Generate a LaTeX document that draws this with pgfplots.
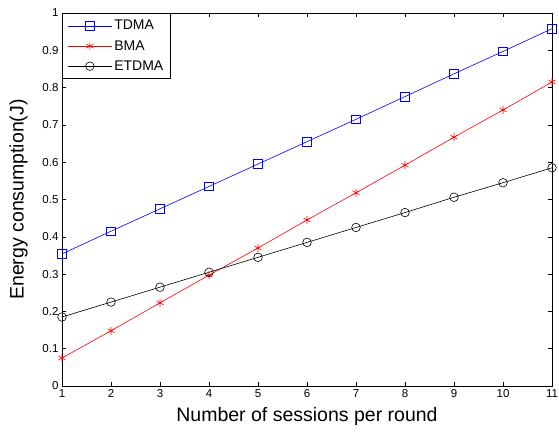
\documentclass[border=0pt]{standalone}
\usepackage{pgfplots}
\pgfplotsset{compat=1.18}
\usepackage{fontspec}
\setmainfont{Liberation Sans}
\begin{document}
\begin{tikzpicture}
\path[use as bounding box] (-62pt,-46pt) rectangle (497pt,386pt);
\begin{axis}[
  at={(0,0)}, anchor=south west,
  scale only axis, width=490pt, height=373pt,
  xmin=1, xmax=11, ymin=0, ymax=1,
  xtick={1,...,11},
  ytick={0,0.1,...,1},
  yticklabels={0,0.1,0.2,0.3,0.4,0.5,0.6,0.7,0.8,0.9,1},
  tick align=inside,
  tick style={black, line width=0.6pt},
  major tick length=4pt,
  /pgf/number format/assume math mode=true,
  ticklabel style={font=\fontsize{11.5}{13}\selectfont},
  xlabel={Number of sessions per round},
  ylabel={Energy consumption(J)},
  label style={font=\fontsize{19.5}{22}\selectfont},
  xlabel style={yshift=-3pt},
  ylabel style={yshift=8pt},
  axis line style={black, line width=0.7pt},
  legend cell align=left,
  legend style={font=\fontsize{14}{16}\selectfont, draw=black, line width=0.7pt,
    inner xsep=5pt, inner ysep=5pt, row sep=5pt, at={(0,1)}, anchor=north west},
  legend image post style={xscale=2.6, mark options={xscale=0.3846, solid, line width=0.6pt}},
]
\addplot[blue, line width=0.6pt, mark=square, mark size=4.3pt, mark options={solid, line width=0.6pt}] coordinates {
(1,0.354) (2,0.415) (3,0.475) (4,0.535) (5,0.595) (6,0.655) (7,0.715) (8,0.776) (9,0.837) (10,0.897) (11,0.958)};
\addlegendentry{TDMA}
\addplot[red, line width=0.6pt, mark=asterisk, mark size=4pt, mark options={solid, line width=0.6pt}] coordinates {
(1,0.075) (2,0.148) (3,0.223) (4,0.297) (5,0.370) (6,0.445) (7,0.518) (8,0.592) (9,0.667) (10,0.740) (11,0.815)};
\addlegendentry{BMA}
\addplot[black, line width=0.6pt, mark=o, mark size=4.3pt, mark options={solid, line width=0.6pt}] coordinates {
(1,0.185) (2,0.225) (3,0.265) (4,0.305) (5,0.345) (6,0.385) (7,0.425) (8,0.465) (9,0.506) (10,0.545) (11,0.585)};
\addlegendentry{ETDMA}
\end{axis}
\end{tikzpicture}
\end{document}
